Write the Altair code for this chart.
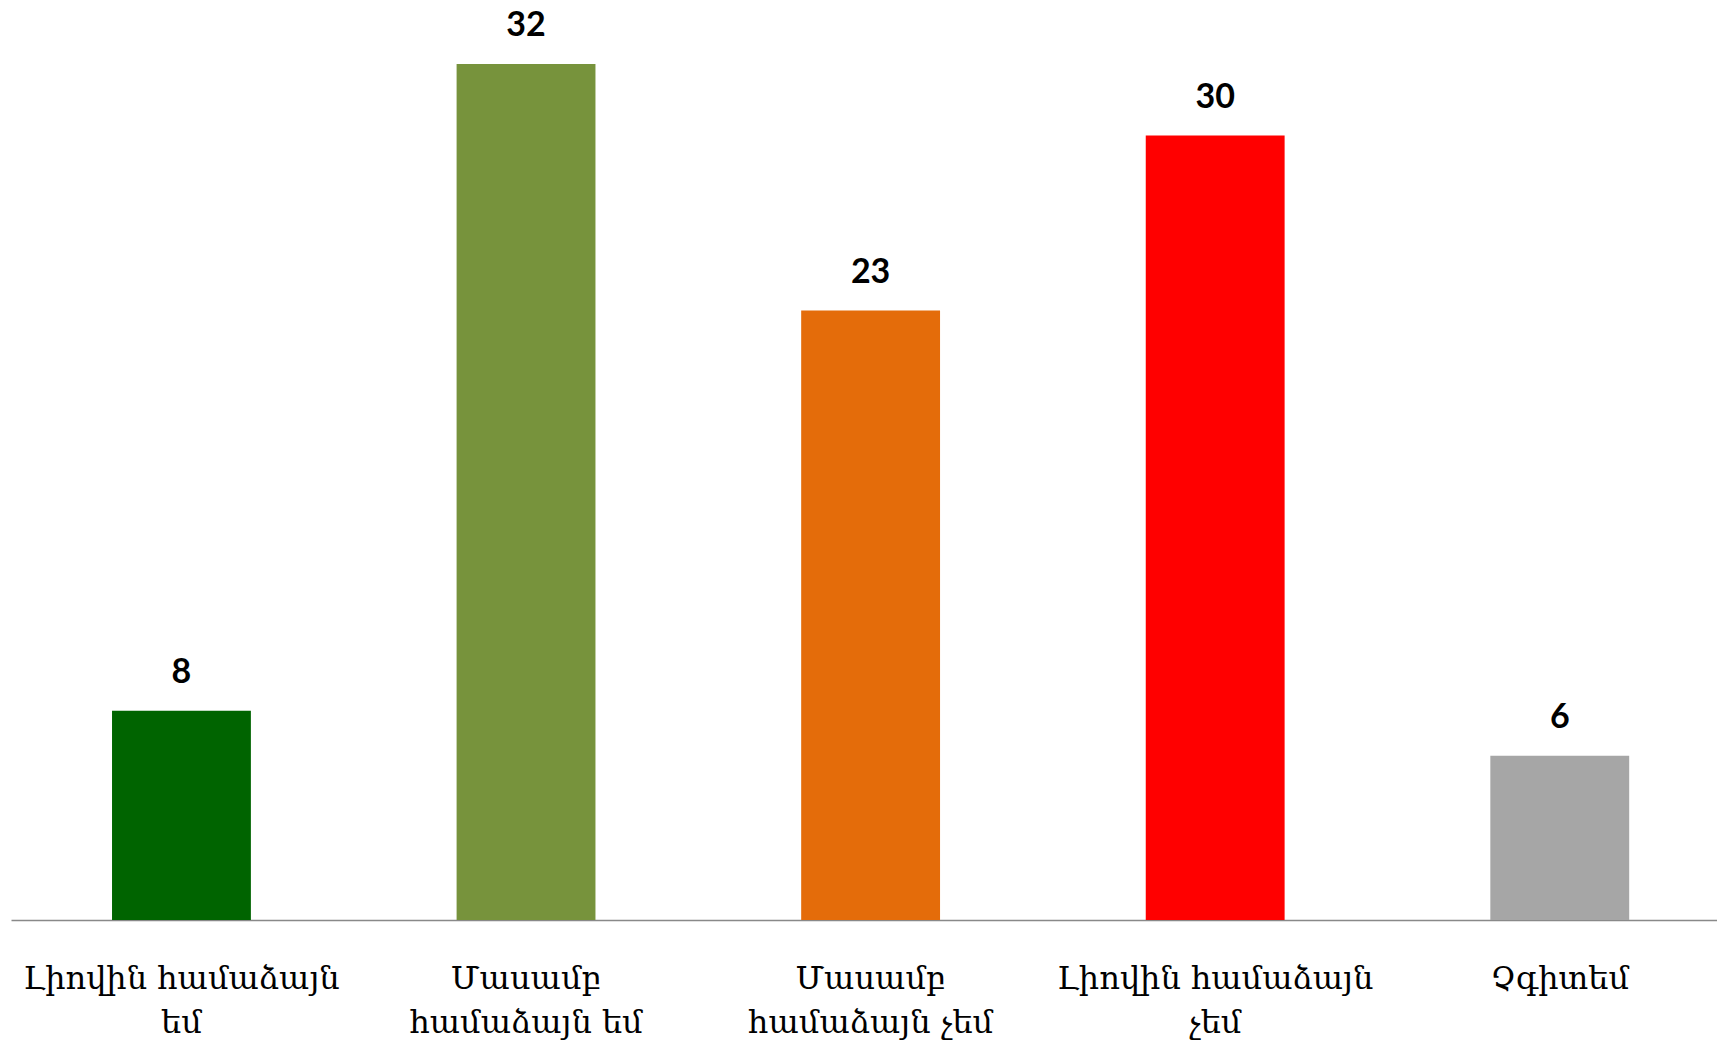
import altair as alt
import pandas as pd

categories = [
    "Լիովին համաձայն\nեմ",
    "Մասամբ\nհամաձայն եմ",
    "Մասամբ\nհամաձայն չեմ",
    "Լիովին համաձայն\nչեմ",
    "Չգիտեմ",
]
values = [7.9, 32.3, 23.0, 29.6, 6.2]
colors = ["#006400", "#77933C", "#E46C0A", "#FF0000", "#A6A6A6"]

df = pd.DataFrame({"category": categories, "value": values, "color": colors})

x = alt.X(
    "category:N",
    sort=categories,
    scale=alt.Scale(paddingInner=0.597, paddingOuter=0.274, align=0.535),
    axis=alt.Axis(
        title=None,
        labelAngle=0,
        labelExpr="split(datum.label, '\\n')",
        labelFont="DejaVu Serif, DejaVu Sans",
        labelFontSize=32,
        labelColor="#000000",
        labelLineHeight=44,
        labelBaseline="alphabetic",
        labelPadding=68,
        labelLimit=600,
        ticks=False,
        tickSize=0,
        domain=True,
        domainColor="#898989",
        domainWidth=1.5,
        grid=False,
    ),
)
y = alt.Y("value:Q", scale=alt.Scale(domain=[0, 34], nice=False), axis=None)

base = alt.Chart(df)
bars = base.mark_bar().encode(x=x, y=y, color=alt.Color("color:N", scale=None))
labels = base.mark_text(
    dy=-28, baseline="alphabetic", font="Lato", fontWeight="bold", fontSize=34, color="#000000"
).encode(x=x, y=y, text=alt.Text("value:Q", format=".0f"))

chart = (
    alt.layer(bars, labels)
    .properties(
        width=1706,
        height=901,
        autosize=alt.AutoSizeParams(type="none"),
        padding={"left": 3, "top": 11, "right": 0, "bottom": 120},
        view=alt.ViewBackground(stroke="transparent", strokeWidth=0),
    )
    .configure_view(stroke="transparent", strokeWidth=0)
    .configure(background="#ffffff")
)

chart.save("out.html", embed_options={"renderer": "svg", "actions": False})
